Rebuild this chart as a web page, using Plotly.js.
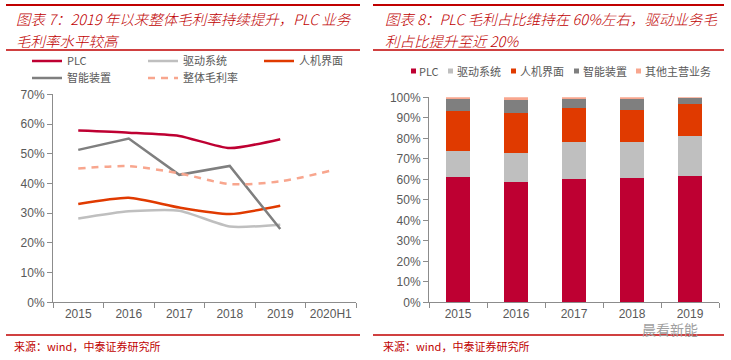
<!DOCTYPE html>
<html>
<head>
<meta charset="utf-8">
<script src="https://cdn.plot.ly/plotly-3.0.1.min.js"></script>
<style>html,body{margin:0;padding:0;background:#fff;}#chart{width:731px;height:360px;}</style>
</head>
<body>
<div id="chart"></div>
<script>
// ---- Left chart: gross margin by business (%) ----
const lineYears = ['2015', '2016', '2017', '2018', '2019', '2020H1'];
const marginPLC = [57.8, 57.1, 56.0, 51.9, 54.9];
const marginDrive = [28.2, 30.6, 30.8, 25.5, 26.1];
const marginHMI = [33.1, 35.2, 31.9, 29.7, 32.5];
const marginSmart = [51.3, 55.1, 42.9, 45.9, 24.7];
const marginOverall = [45.0, 45.8, 43.4, 39.8, 40.7, 44.3];

// ---- Right chart: gross profit share (%) ----
const barYears = ['2015', '2016', '2017', '2018', '2019'];
const sharePLC = [61.0, 58.7, 60.3, 60.7, 61.6];
const shareDrive = [12.8, 14.3, 17.7, 17.7, 19.7];
const shareHMI = [19.4, 19.5, 17.0, 15.6, 15.6];
const shareSmart = [6.0, 6.4, 4.0, 5.3, 2.9];
const shareOther = [0.8, 1.1, 1.0, 0.7, 0.2];

const seriesNames = ['PLC', '驱动系统', '人机界面', '智能装置', '整体毛利率', '其他主营业务'];

const C = {
  plc: '#BE0032', drive: '#BFBFBF', hmi: '#E03A00', smart: '#7F7F7F',
  overall: '#F8A68E', other: '#F8A68E', red: '#C00000', tick: '#595959', axis: '#8C8C8C'
};
const CJK = '"Noto Sans CJK SC", "Liberation Sans", sans-serif';
const W = 731, H = 360;
const px = v => v / W;
const py = v => 1 - v / H;

const lineTrace = (y, name, color, legend, opts = {}) => Object.assign({
  type: 'scatter', mode: 'lines', x: lineYears.slice(0, y.length), y: y, name: name,
  xaxis: 'x', yaxis: 'y', legend: legend,
  line: {color: color, width: 2.5, shape: 'spline', smoothing: 0.6}
}, opts);

const barTrace = (y, name, color) => ({
  type: 'bar', x: barYears, y: y, name: name, xaxis: 'x2', yaxis: 'y2',
  marker: {color: color}, width: 0.4, showlegend: false
});

const data = [
  lineTrace(marginPLC, seriesNames[0], C.plc, 'legend'),
  lineTrace(marginDrive, seriesNames[1], C.drive, 'legend'),
  lineTrace(marginHMI, seriesNames[2], C.hmi, 'legend'),
  lineTrace(marginSmart, seriesNames[3], C.smart, 'legend2', {line: {color: C.smart, width: 2.5, shape: 'linear'}}),
  lineTrace(marginOverall, seriesNames[4], C.overall, 'legend2', {line: {color: C.overall, width: 2.5, dash: '7px,6px', shape: 'spline', smoothing: 0.8}}),
  barTrace(sharePLC, seriesNames[0], C.plc),
  barTrace(shareDrive, seriesNames[1], C.drive),
  barTrace(shareHMI, seriesNames[2], C.hmi),
  barTrace(shareSmart, seriesNames[3], C.smart),
  barTrace(shareOther, seriesNames[5], C.other)
];

const tickFont = {family: '"Liberation Sans", Arial, sans-serif', size: 12, color: C.tick};
const xCommon = {
  type: 'category', showgrid: false, zeroline: false, showline: true, linecolor: C.axis, linewidth: 1,
  ticks: 'outside', tickson: 'boundaries', ticklen: 5, tickcolor: C.axis, tickfont: tickFont,
  tickangle: 0, fixedrange: true
};
const yCommon = {
  showgrid: false, zeroline: false, showline: true, linecolor: C.axis, linewidth: 1,
  ticks: 'outside', ticklen: 5, tickcolor: C.axis, tickfont: tickFont, ticksuffix: '%', dtick: 10, fixedrange: true
};

const legendFont = {family: CJK, size: 11, color: C.tick};
const legendCommon = {
  orientation: 'h', xanchor: 'left', yanchor: 'middle', font: legendFont,
  entrywidth: 71, bgcolor: 'rgba(0,0,0,0)', borderwidth: 0, traceorder: 'normal', itemclick: false
};

// manual legend for the right chart
const rightLegend = [
  {name: seriesNames[0], color: C.plc, sx: 411, tx: 417},
  {name: seriesNames[1], color: C.drive, sx: 448, tx: 455},
  {name: seriesNames[2], color: C.hmi, sx: 511, tx: 518},
  {name: seriesNames[3], color: C.smart, sx: 574, tx: 581},
  {name: seriesNames[5], color: C.other, sx: 636, tx: 643}
];

const shapes = [];
const ruleLine = (x0, x1, y, w) => shapes.push({type: 'line', xref: 'paper', yref: 'paper',
  x0: px(x0), x1: px(x1), y0: py(y), y1: py(y), line: {color: C.red, width: w}});
ruleLine(6, 360, 5, 2); ruleLine(6, 360, 50, 1.5); ruleLine(6, 360, 335, 1.5);
ruleLine(373, 724, 5, 2); ruleLine(373, 724, 50, 1.5); ruleLine(373, 724, 335, 1.5);
rightLegend.forEach(e => shapes.push({type: 'rect', xref: 'paper', yref: 'paper',
  x0: px(e.sx), x1: px(e.sx + 5), y0: py(73.5), y1: py(68.5), line: {width: 0}, fillcolor: e.color}));

const annotations = [];
const note = (text, x, y, font, extra = {}) => annotations.push(Object.assign({
  text: text, xref: 'paper', yref: 'paper', x: px(x), y: py(y), xanchor: 'left', yanchor: 'middle',
  showarrow: false, font: font
}, extra));
const titleFont = {family: CJK, size: 14.5, color: C.red, style: 'italic', weight: 300};
note('图表 7：2019 年以来整体毛利率持续提升，PLC 业务', 14, 18, titleFont);
note('毛利率水平较高', 14, 40, titleFont);
note('图表 8：PLC 毛利占比维持在 60%左右，驱动业务毛', 383, 18, titleFont);
note('利占比提升至近 20%', 383, 40, titleFont);
const srcFont = {family: CJK, size: 11, color: C.red};
note('来源：wind，中泰证券研究所', 12, 346, srcFont);
note('来源：wind，中泰证券研究所', 381, 346, srcFont);
rightLegend.forEach(e => note(e.name, e.tx, 71, legendFont));
note('晨看新能', 640, 328.5, {family: CJK, size: 14, color: '#A0A0A0'});

const layout = {
  width: W, height: H, margin: {l: 0, r: 0, t: 0, b: 0},
  paper_bgcolor: '#fff', plot_bgcolor: '#fff', showlegend: true, barmode: 'stack',
  xaxis: Object.assign({}, xCommon, {domain: [px(53), px(356)], range: [-0.5, 5.5], anchor: 'y'}),
  yaxis: Object.assign({}, yCommon, {domain: [py(302.3), py(94.3)], range: [0, 70], anchor: 'x'}),
  xaxis2: Object.assign({}, xCommon, {domain: [px(429), px(719)], range: [-0.5, 4.5], anchor: 'y2'}),
  yaxis2: Object.assign({}, yCommon, {domain: [py(302.3), py(97.3)], range: [0, 100], anchor: 'x2'}),
  legend: Object.assign({}, legendCommon, {x: px(27), y: py(61)}),
  legend2: Object.assign({}, legendCommon, {x: px(27), y: py(78)}),
  shapes: shapes, annotations: annotations
};

Plotly.newPlot('chart', data, layout, {displayModeBar: false, staticPlot: true});
</script>
</body>
</html>
